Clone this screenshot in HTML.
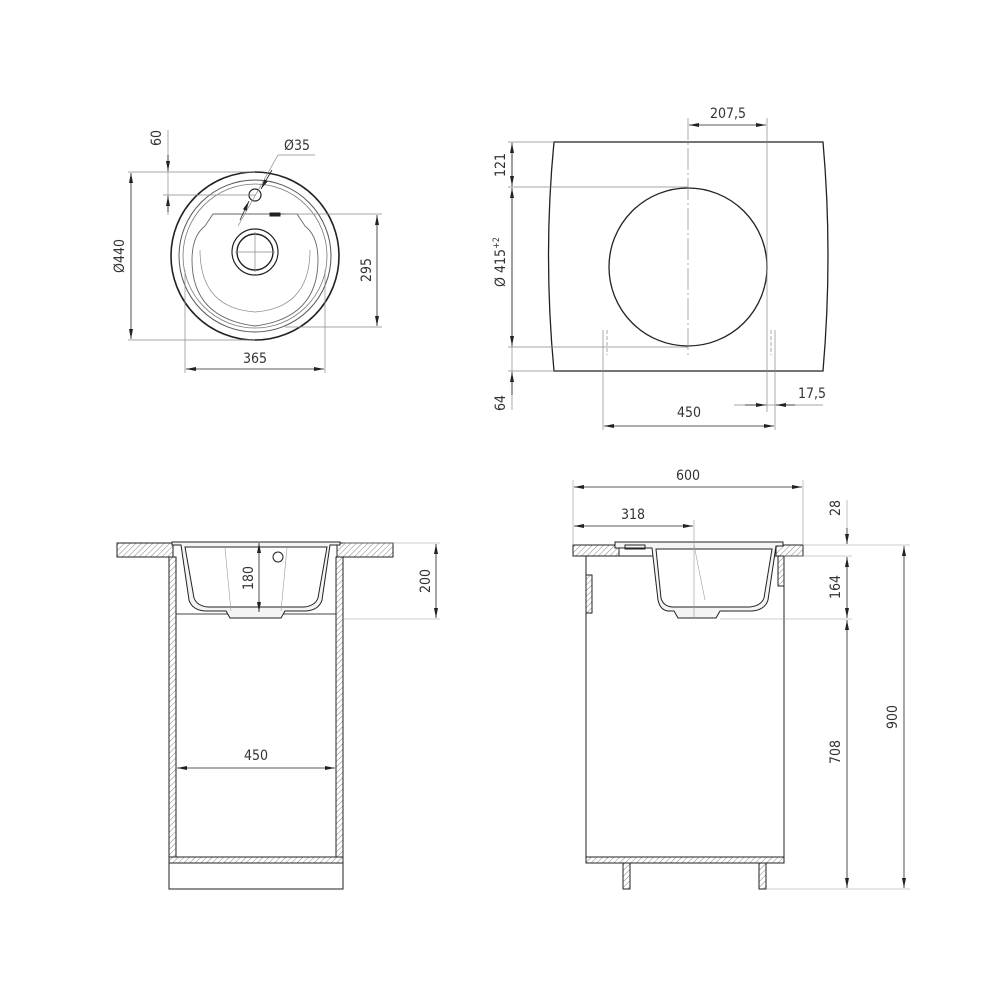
<!DOCTYPE html>
<html><head><meta charset="utf-8"><style>
html,body{margin:0;padding:0;background:#fff;}
svg{display:block}
text{font-family:"DejaVu Sans Condensed","Liberation Sans",sans-serif;font-size:14px;fill:#333;}
</style></head><body>
<svg width="1000" height="1000" viewBox="0 0 1000 1000" xmlns="http://www.w3.org/2000/svg">
<defs>
<pattern id="h" patternUnits="userSpaceOnUse" width="4" height="4" patternTransform="rotate(45)">
<rect width="4" height="4" fill="#fff"/><line x1="0" y1="0" x2="0" y2="4" stroke="#666" stroke-width="0.8"/>
</pattern>
<marker id="a" viewBox="0 0 10 4" refX="10" refY="2" markerWidth="10" markerHeight="4" orient="auto" markerUnits="userSpaceOnUse"><path d="M0,0 L10,2 L0,4z" fill="#222"/></marker>
</defs>
<g fill="none" stroke="#222" stroke-width="1">
<!-- TOP LEFT -->
<circle cx="255" cy="256" r="84" stroke-width="1.6"/>
<circle cx="255" cy="256" r="76" stroke="#555"/>
<circle cx="255" cy="256" r="72" stroke="#777" stroke-width="0.8"/>
<path d="M213,214 L297,214 L305,226 Q318,236 318,260 Q318,318 255,326 Q192,318 192,260 Q192,236 205,226 Z" stroke="#666" stroke-width="0.9"/>
<path d="M200,250 Q200,308 255,312 Q310,308 310,250" stroke="#888" stroke-width="0.7"/>
<circle cx="255" cy="252" r="23" stroke-width="1.2"/>
<circle cx="255" cy="252" r="18" stroke-width="1.4"/>
<circle cx="255" cy="195" r="6" stroke-width="1.2"/>
<rect x="270" y="213" width="10" height="3" fill="#222"/>
<g stroke="#888" stroke-width="0.7">
<line x1="128" y1="172" x2="255" y2="172"/><line x1="128" y1="340" x2="255" y2="340"/>
<line x1="163" y1="195" x2="255" y2="195"/>
<line x1="285" y1="214" x2="382" y2="214"/><line x1="285" y1="327" x2="382" y2="327"/>
<line x1="185" y1="270" x2="185" y2="373"/><line x1="325" y1="270" x2="325" y2="373"/>
<line x1="168" y1="130" x2="168" y2="215"/>
<line x1="235" y1="252" x2="275" y2="252"/><line x1="255" y1="232" x2="255" y2="272"/>
<line x1="238" y1="226" x2="278" y2="155"/><line x1="278" y1="155" x2="315" y2="155"/>
</g>
<line x1="131" y1="256" x2="131" y2="173" marker-end="url(#a)" stroke-width="0.8"/>
<line x1="131" y1="256" x2="131" y2="339" marker-end="url(#a)" stroke-width="0.8"/>
<line x1="168" y1="155" x2="168" y2="171" marker-end="url(#a)" stroke-width="0.8"/>
<line x1="168" y1="212" x2="168" y2="196" marker-end="url(#a)" stroke-width="0.8"/>
<line x1="377" y1="270" x2="377" y2="215" marker-end="url(#a)" stroke-width="0.8"/>
<line x1="377" y1="270" x2="377" y2="326" marker-end="url(#a)" stroke-width="0.8"/>
<line x1="255" y1="369" x2="186" y2="369" marker-end="url(#a)" stroke-width="0.8"/>
<line x1="255" y1="369" x2="324" y2="369" marker-end="url(#a)" stroke-width="0.8"/>
<line x1="272" y1="170" x2="261" y2="189" marker-end="url(#a)" stroke-width="0.8"/>
<line x1="240" y1="220" x2="249" y2="201" marker-end="url(#a)" stroke-width="0.8"/>

<!-- TOP RIGHT -->
<path d="M554,142 L823,142 Q833,255 823,371 L554,371 Q543,255 554,142 Z" stroke-width="1.3"/>
<circle cx="688" cy="267" r="79" stroke-width="1.3"/>
<g stroke="#888" stroke-width="0.7">
<line x1="688" y1="118" x2="688" y2="358" stroke-dasharray="22,3,2,3"/>
<line x1="767" y1="118" x2="767" y2="412"/>
<line x1="775" y1="330" x2="775" y2="430"/>
<line x1="603" y1="330" x2="603" y2="430"/>
<line x1="607" y1="330" x2="607" y2="355" stroke-dasharray="4,2"/>
<line x1="771" y1="330" x2="771" y2="355" stroke-dasharray="4,2"/>
<line x1="508" y1="142" x2="554" y2="142"/><line x1="508" y1="187" x2="688" y2="187"/>
<line x1="508" y1="347" x2="688" y2="347"/><line x1="508" y1="371" x2="554" y2="371"/>
<line x1="734" y1="405" x2="823" y2="405"/>
<line x1="512" y1="142" x2="512" y2="410"/>
</g>
<line x1="728" y1="125" x2="689" y2="125" marker-end="url(#a)" stroke-width="0.8"/>
<line x1="728" y1="125" x2="766" y2="125" marker-end="url(#a)" stroke-width="0.8"/>
<line x1="512" y1="165" x2="512" y2="143" marker-end="url(#a)" stroke-width="0.8"/>
<line x1="512" y1="165" x2="512" y2="186" marker-end="url(#a)" stroke-width="0.8"/>
<line x1="512" y1="267" x2="512" y2="188" marker-end="url(#a)" stroke-width="0.8"/>
<line x1="512" y1="267" x2="512" y2="346" marker-end="url(#a)" stroke-width="0.8"/>
<line x1="512" y1="395" x2="512" y2="372" marker-end="url(#a)" stroke-width="0.8"/>
<line x1="689" y1="426" x2="604" y2="426" marker-end="url(#a)" stroke-width="0.8"/>
<line x1="689" y1="426" x2="774" y2="426" marker-end="url(#a)" stroke-width="0.8"/>
<line x1="745" y1="405" x2="766" y2="405" marker-end="url(#a)" stroke-width="0.8"/>
<line x1="795" y1="405" x2="776" y2="405" marker-end="url(#a)" stroke-width="0.8"/>

<!-- BOTTOM LEFT -->
<rect x="117" y="543" width="56" height="14" fill="url(#h)"/>
<rect x="337" y="543" width="56" height="14" fill="url(#h)"/>
<rect x="169" y="557" width="7" height="300" fill="url(#h)"/>
<rect x="336" y="557" width="7" height="300" fill="url(#h)"/>
<rect x="169" y="857" width="174" height="6" fill="url(#h)"/>
<rect x="169" y="863" width="174" height="26"/>
<line x1="176" y1="614" x2="336" y2="614" stroke="#444"/>
<path d="M172,542 L340,542 L340,545 L330,545 L322,600 Q319,610 306,611 L285,611 L281,618 L230,618 L226,611 L205,611 Q192,610 189,600 L181,545 L172,545 Z" fill="#f4f4f4"/>
<path d="M185,547 L327,547 L318,598 Q315,606 304,607 L208,607 Q197,606 194,598 Z" fill="#fff"/>
<circle cx="278" cy="557" r="5"/>
<g stroke="#999" stroke-width="0.6">
<line x1="225" y1="548" x2="231" y2="611"/><line x1="287" y1="548" x2="281" y2="611"/>
<line x1="343" y1="543" x2="440" y2="543"/><line x1="343" y1="619" x2="440" y2="619"/>
</g>
<line x1="436" y1="581" x2="436" y2="544" marker-end="url(#a)" stroke-width="0.8"/>
<line x1="436" y1="581" x2="436" y2="618" marker-end="url(#a)" stroke-width="0.8"/>
<line x1="259" y1="578" x2="259" y2="543" marker-end="url(#a)" stroke-width="0.8"/>
<line x1="259" y1="578" x2="259" y2="612" marker-end="url(#a)" stroke-width="0.8"/>
<line x1="256" y1="768" x2="177" y2="768" marker-end="url(#a)" stroke-width="0.8"/>
<line x1="256" y1="768" x2="335" y2="768" marker-end="url(#a)" stroke-width="0.8"/>

<!-- BOTTOM RIGHT -->
<rect x="573" y="545" width="46" height="11" fill="url(#h)"/>
<rect x="776" y="545" width="27" height="11" fill="url(#h)"/>
<rect x="586" y="556" width="198" height="307"/>
<rect x="586" y="857" width="198" height="6" fill="url(#h)"/>
<rect x="778" y="556" width="6" height="30" fill="url(#h)"/>
<rect x="586" y="575" width="6" height="38" fill="url(#h)"/>
<rect x="623" y="863" width="7" height="26" fill="url(#h)"/>
<rect x="759" y="863" width="7" height="26" fill="url(#h)"/>
<path d="M615,542 L783,542 L783,546 L776,546 L768,600 Q765,610 752,611 L720,611 L716,618 L678,618 L674,611 L668,611 Q660,610 658,600 L652,548 L615,548 Z" fill="#f4f4f4"/>
<path d="M656,549 L772,549 L764,598 Q761,606 750,607 L672,607 Q663,606 661,598 Z" fill="#fff"/>
<rect x="625" y="545" width="20" height="4"/>
<g stroke="#999" stroke-width="0.6">
<line x1="694" y1="520" x2="694" y2="618"/><line x1="694" y1="545" x2="705" y2="600"/>
<line x1="573" y1="480" x2="573" y2="545"/><line x1="803" y1="480" x2="803" y2="545"/>
<line x1="803" y1="545" x2="910" y2="545"/><line x1="784" y1="556" x2="852" y2="556"/>
<line x1="720" y1="619" x2="852" y2="619"/><line x1="766" y1="889" x2="910" y2="889"/>
<line x1="847" y1="500" x2="847" y2="530"/>
</g>
<line x1="688" y1="487" x2="574" y2="487" marker-end="url(#a)" stroke-width="0.8"/>
<line x1="688" y1="487" x2="802" y2="487" marker-end="url(#a)" stroke-width="0.8"/>
<line x1="633" y1="526" x2="574" y2="526" marker-end="url(#a)" stroke-width="0.8"/>
<line x1="633" y1="526" x2="693" y2="526" marker-end="url(#a)" stroke-width="0.8"/>
<line x1="847" y1="528" x2="847" y2="544" marker-end="url(#a)" stroke-width="0.8"/>
<line x1="847" y1="587" x2="847" y2="557" marker-end="url(#a)" stroke-width="0.8"/>
<line x1="847" y1="587" x2="847" y2="618" marker-end="url(#a)" stroke-width="0.8"/>
<line x1="847" y1="750" x2="847" y2="620" marker-end="url(#a)" stroke-width="0.8"/>
<line x1="847" y1="750" x2="847" y2="888" marker-end="url(#a)" stroke-width="0.8"/>
<line x1="904" y1="717" x2="904" y2="546" marker-end="url(#a)" stroke-width="0.8"/>
<line x1="904" y1="717" x2="904" y2="888" marker-end="url(#a)" stroke-width="0.8"/>
</g>
<!-- texts -->
<text x="255" y="363" text-anchor="middle">365</text>
<text x="297" y="150" text-anchor="middle">Ø35</text>
<text transform="translate(124,256) rotate(-90)" text-anchor="middle">Ø440</text>
<text transform="translate(161,138) rotate(-90)" text-anchor="middle">60</text>
<text transform="translate(371,270) rotate(-90)" text-anchor="middle">295</text>
<text x="728" y="118" text-anchor="middle">207,5</text>
<text transform="translate(505,165) rotate(-90)" text-anchor="middle">121</text>
<text transform="translate(505,262) rotate(-90)" text-anchor="middle">Ø 415<tspan font-size="9" dy="-6">+2</tspan></text>
<text transform="translate(505,403) rotate(-90)" text-anchor="middle">64</text>
<text x="689" y="417" text-anchor="middle">450</text>
<text x="812" y="398" text-anchor="middle">17,5</text>
<text x="256" y="760" text-anchor="middle">450</text>
<text transform="translate(253,578) rotate(-90)" text-anchor="middle">180</text>
<text transform="translate(430,581) rotate(-90)" text-anchor="middle">200</text>
<text x="688" y="480" text-anchor="middle">600</text>
<text x="633" y="519" text-anchor="middle">318</text>
<text transform="translate(840,508) rotate(-90)" text-anchor="middle">28</text>
<text transform="translate(840,587) rotate(-90)" text-anchor="middle">164</text>
<text transform="translate(840,752) rotate(-90)" text-anchor="middle">708</text>
<text transform="translate(897,717) rotate(-90)" text-anchor="middle">900</text>
</svg>
</body></html>
